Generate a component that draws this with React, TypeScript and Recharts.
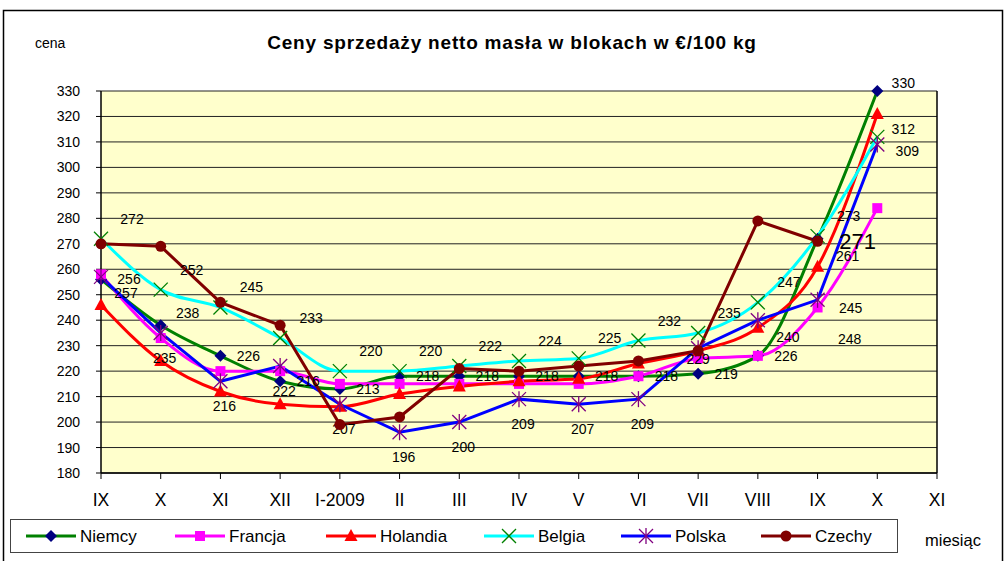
import React from "react";
import { LineChart, Line, XAxis, YAxis, CartesianGrid, ReferenceLine } from "recharts";

const categories = ["IX", "X", "XI", "XII", "I-2009", "II", "III", "IV", "V", "VI", "VII", "VIII", "IX", "X", "XI"];
const niemcy = [256, 238, 226, 216, 213, 218, 218, 218, 218, 218, 219, 226, 272, 330, null];
const francja = [258, 233, 220, 220, 215, 215, 215, 215, 215, 218, 225, 226, 245, 284, null];
const holandia = [246, 224, 212, 207, 206, 211, 214, 216, 217, 223, 228, 237, 261, 321, null];
const belgia = [272, 252, 245, 233, 220, 220, 222, 224, 225, 232, 235, 247, 273, 312, null];
const polska = [257, 235, 216, 222, 207, 196, 200, 209, 207, 209, 229, 240, 248, 309, null];
const czechy = [270, 269, 247, 238, 199, 202, 221, 220, 222, 224, 228, 279, 271, null, null];
const yTicks = [180, 190, 200, 210, 220, 230, 240, 250, 260, 270, 280, 290, 300, 310, 320, 330];

const data = categories.map((c, i) => ({
  key: String(i),
  label: c,
  Niemcy: niemcy[i],
  Francja: francja[i],
  Holandia: holandia[i],
  Belgia: belgia[i],
  Polska: polska[i],
  Czechy: czechy[i],
}));

const FONT = "'Liberation Sans', Arial, sans-serif";

type Shape = "diamond" | "square" | "triangle" | "x" | "star" | "circle";

function Marker({ shape, cx, cy, color }: { shape: Shape; cx: number; cy: number; color: string }) {
  if (shape === "diamond")
    return <polygon points={`${cx},${cy - 6} ${cx + 6},${cy} ${cx},${cy + 6} ${cx - 6},${cy}`} fill={color} />;
  if (shape === "square") return <rect x={cx - 5} y={cy - 5} width={10} height={10} fill={color} />;
  if (shape === "triangle")
    return <polygon points={`${cx},${cy - 7} ${cx + 6.5},${cy + 5} ${cx - 6.5},${cy + 5}`} fill={color} />;
  if (shape === "x")
    return (
      <g stroke={color} strokeWidth={1.3}>
        <line x1={cx - 7} y1={cy - 7} x2={cx + 7} y2={cy + 7} />
        <line x1={cx - 7} y1={cy + 7} x2={cx + 7} y2={cy - 7} />
      </g>
    );
  if (shape === "star")
    return (
      <g stroke={color} strokeWidth={1.3}>
        <line x1={cx - 7} y1={cy - 7} x2={cx + 7} y2={cy + 7} />
        <line x1={cx - 7} y1={cy + 7} x2={cx + 7} y2={cy - 7} />
        <line x1={cx} y1={cy - 8} x2={cx} y2={cy + 8} />
      </g>
    );
  return <circle cx={cx} cy={cy} r={5.5} fill={color} />;
}

type LabelCfg = { dx: number; dy: number; only?: number[]; skip?: number[]; size?: number; override?: Record<number, [number, number]> };

function makeDot(shape: Shape, color: string, lab?: LabelCfg) {
  return (props: any) => {
    const { cx, cy, index, value } = props;
    const k = `d${index}`;
    if (cx == null || cy == null || value == null) return <g key={k} />;
    let showLabel = !!lab;
    if (lab && lab.only && !lab.only.includes(index)) showLabel = false;
    if (lab && lab.skip && lab.skip.includes(index)) showLabel = false;
    let dx = lab ? lab.dx : 0;
    let dy = lab ? lab.dy : 0;
    if (lab && lab.override && lab.override[index]) {
      dx = lab.override[index][0];
      dy = lab.override[index][1];
    }
    return (
      <g key={k}>
        <Marker shape={shape} cx={cx} cy={cy} color={color} />
        {showLabel && (
          <text
            x={cx + dx}
            y={cy + dy}
            textAnchor="middle"
            dominantBaseline="central"
            fontSize={lab!.size || 14}
            fontFamily={FONT}
            fill="#000"
          >
            {value}
          </text>
        )}
      </g>
    );
  };
}

const series = [
  { key: "Niemcy", line: "#008000", mark: "#000080", shape: "diamond" as Shape, type: "monotone",
    lab: { dx: 28, dy: 0, skip: [12], override: { 1: [27, -12], 13: [26, -8] } } as LabelCfg },
  { key: "Francja", line: "#FF00FF", mark: "#FF00FF", shape: "square" as Shape, type: "monotone",
    lab: { dx: 33, dy: 1, only: [12] } as LabelCfg },
  { key: "Holandia", line: "#FF0000", mark: "#FF0000", shape: "triangle" as Shape, type: "monotone",
    lab: { dx: 30, dy: -11, only: [12] } as LabelCfg },
  { key: "Belgia", line: "#00FFFF", mark: "#008000", shape: "x" as Shape, type: "monotone",
    lab: { dx: 31, dy: -20, override: { 13: [26, -8] } } as LabelCfg },
  { key: "Polska", line: "#0000FF", mark: "#800080", shape: "star" as Shape, type: "linear",
    lab: { dx: 4, dy: 25, override: { 0: [25, 16], 10: [0, 11], 11: [30, 17], 12: [32, 39], 13: [30, 7] } } as LabelCfg },
  { key: "Czechy", line: "#800000", mark: "#800000", shape: "circle" as Shape, type: "linear",
    lab: { dx: 40, dy: 0, only: [12], size: 22 } as LabelCfg },
];

function LegendItem({ x, label, line, mark, shape }: { x: number; label: string; line: string; mark: string; shape: Shape }) {
  const y = 536;
  return (
    <g>
      <line x1={x} y1={y} x2={x + 50} y2={y} stroke={line} strokeWidth={3} />
      <Marker shape={shape} cx={x + 25} cy={y} color={mark} />
      <text x={x + 54} y={y} dominantBaseline="central" fontSize={17} fontFamily={FONT} fill="#000">
        {label}
      </text>
    </g>
  );
}

const legendX = [26, 175, 326, 484, 621, 761];

export default function App() {
  return (
    <div style={{ position: "absolute", left: 0, top: 0, width: 1007, height: 561, background: "#fff" }}>
      <LineChart
        width={1007}
        height={561}
        data={data}
        margin={{ top: 91, right: 70, bottom: 48, left: 41 }}
        style={{ fontFamily: FONT }}
      >
        <CartesianGrid vertical={false} stroke="#222" strokeWidth={1} fill="#FFFFCC" fillOpacity={1} />
        <XAxis
          dataKey="key"
          interval={0}
          tickFormatter={(v: string) => categories[Number(v)]}
          axisLine={{ stroke: "#000", strokeWidth: 1.5 }}
          tickLine={{ stroke: "#000" }}
          tickSize={6}
          tickMargin={15}
          height={40}
          tick={{ fill: "#000", fontSize: 17.5, fontFamily: FONT }}
        />
        <YAxis
          domain={[180, 330]}
          ticks={yTicks}
          interval={0}
          width={60}
          axisLine={{ stroke: "#000", strokeWidth: 1.5 }}
          tickLine={{ stroke: "#000" }}
          tickSize={5}
          tickMargin={16}
          tick={{ fill: "#000", fontSize: 14, fontFamily: FONT }}
        />
        <ReferenceLine x="14" stroke="#000" strokeWidth={1.5} />
        {series.map((s) => (
          <Line
            key={s.key}
            dataKey={s.key}
            type={s.type as any}
            stroke={s.line}
            strokeWidth={3}
            dot={makeDot(s.shape, s.mark, s.lab)}
            activeDot={false}
            isAnimationActive={false}
            connectNulls={false}
          />
        ))}
      </LineChart>
      <svg
        width={1007}
        height={561}
        style={{ position: "absolute", left: 0, top: 0, pointerEvents: "none" }}
      >
        <rect x={3.5} y={10.5} width={999} height={600} fill="none" stroke="#000" strokeWidth={1.5} />
        <text x={512} y={42} textAnchor="middle" dominantBaseline="central" fontSize={19} fontWeight="bold" letterSpacing={0.8} fontFamily={FONT} fill="#000">
          Ceny sprzedaży netto masła w blokach w €/100 kg
        </text>
        <text x={35} y={43} dominantBaseline="central" fontSize={14} fontFamily={FONT} fill="#000">
          cena
        </text>
        <text x={925} y={540} dominantBaseline="central" fontSize={16.5} fontFamily={FONT} fill="#000">
          miesiąc
        </text>
        <rect x={10.5} y={519.5} width={887} height={33} fill="#fff" stroke="#444" strokeWidth={1} />
        {series.map((s, i) => (
          <LegendItem key={s.key} x={legendX[i]} label={s.key} line={s.line} mark={s.mark} shape={s.shape} />
        ))}
      </svg>
    </div>
  );
}
